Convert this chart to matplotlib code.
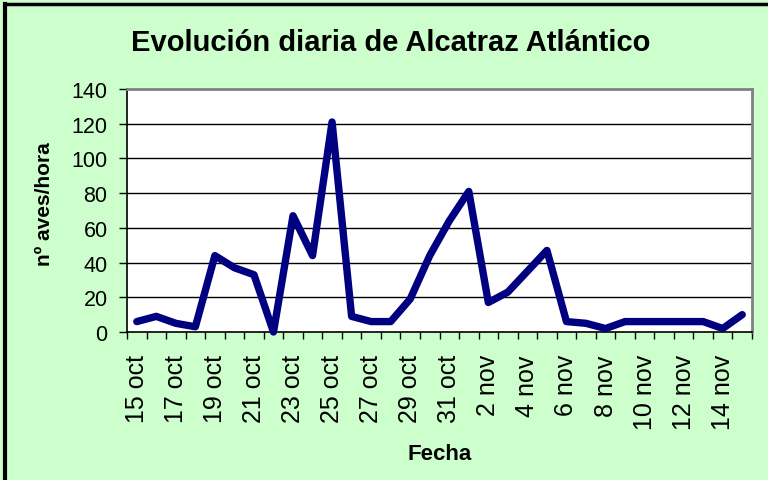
import matplotlib
matplotlib.use("Agg")
import matplotlib.pyplot as plt
from matplotlib.lines import Line2D

plt.rcParams['font.family'] = ['Liberation Sans', 'DejaVu Sans']

# data
fechas = ["15 oct", "16 oct", "17 oct", "18 oct", "19 oct", "20 oct", "21 oct", "22 oct",
          "23 oct", "24 oct", "25 oct", "26 oct", "27 oct", "28 oct", "29 oct", "30 oct",
          "31 oct", "1 nov", "2 nov", "3 nov", "4 nov", "5 nov", "6 nov", "7 nov",
          "8 nov", "9 nov", "10 nov", "11 nov", "12 nov", "13 nov", "14 nov", "15 nov"]
aves_hora = [6, 9, 5, 3, 44, 37, 33, 0,
             67, 44, 121, 9, 6, 6, 19, 44,
             64, 81, 17, 23, 35, 47, 6, 5,
             2, 6, 6, 6, 6, 6, 2, 10]
y_ticks = [0, 20, 40, 60, 80, 100, 120, 140]

bg = '#CCFFCC'
W, H = 768, 481

fig = plt.figure(figsize=(W / 100, H / 100), dpi=100, facecolor=bg)
ax = fig.add_axes([127 / W, 1 - 333 / H, 625 / W, 243 / H])
ax.set_facecolor('white')

x = list(range(len(fechas)))
ax.plot(x, aves_hora, color='#000080', linewidth=5.3,
        solid_joinstyle='round', solid_capstyle='round', zorder=3, clip_on=False)

ax.set_xlim(-0.5, len(fechas) - 0.5)
ax.set_ylim(0, 140)

# y axis
ax.set_yticks(y_ticks)
ax.set_yticklabels([str(v) for v in y_ticks])
ax.tick_params(axis='y', direction='out', length=6, width=1, pad=8, labelsize=15.5, colors='black')
for v in y_ticks[1:-1]:
    ax.axhline(v, color='black', linewidth=1, zorder=1)

# x axis: marks at category boundaries, labels every second category
ax.set_xticks([i - 0.5 for i in range(len(fechas) + 1)])
ax.set_xticklabels([])
ax.tick_params(axis='x', which='major', direction='out', length=5, width=1)
ax.set_xticks(x[::2], minor=True)
ax.set_xticklabels(fechas[::2], minor=True, rotation=90, va='top', ha='center')
ax.tick_params(axis='x', which='minor', length=0, pad=16, labelsize=18)

for side in ['left', 'bottom']:
    ax.spines[side].set_color('black')
    ax.spines[side].set_linewidth(1.2)
for side in ['top', 'right']:
    ax.spines[side].set_color('#808080')
    ax.spines[side].set_linewidth(2)

fig.text(391 / W, 1 - 43 / H, "Evolución diaria de Alcatraz Atlántico",
         ha='center', va='center', fontsize=21, fontweight='bold')
fig.text(45 / W, 1 - 204 / H, "nº aves/hora", rotation=90,
         ha='center', va='center', fontsize=15, fontweight='bold')
fig.text(440 / W, 1 - 455 / H, "Fecha", ha='center', va='center',
         fontsize=16, fontweight='bold')

# outer chart border (only left and top visible in the crop)
fig.add_artist(Line2D([5 / W, 5 / W], [0, 1 - 5 / H], transform=fig.transFigure,
                      color='black', linewidth=3))
fig.add_artist(Line2D([5 / W, 1], [1 - 5 / H, 1 - 5 / H], transform=fig.transFigure,
                      color='black', linewidth=2.5))

fig.savefig('out.png', dpi=100, facecolor=bg)
